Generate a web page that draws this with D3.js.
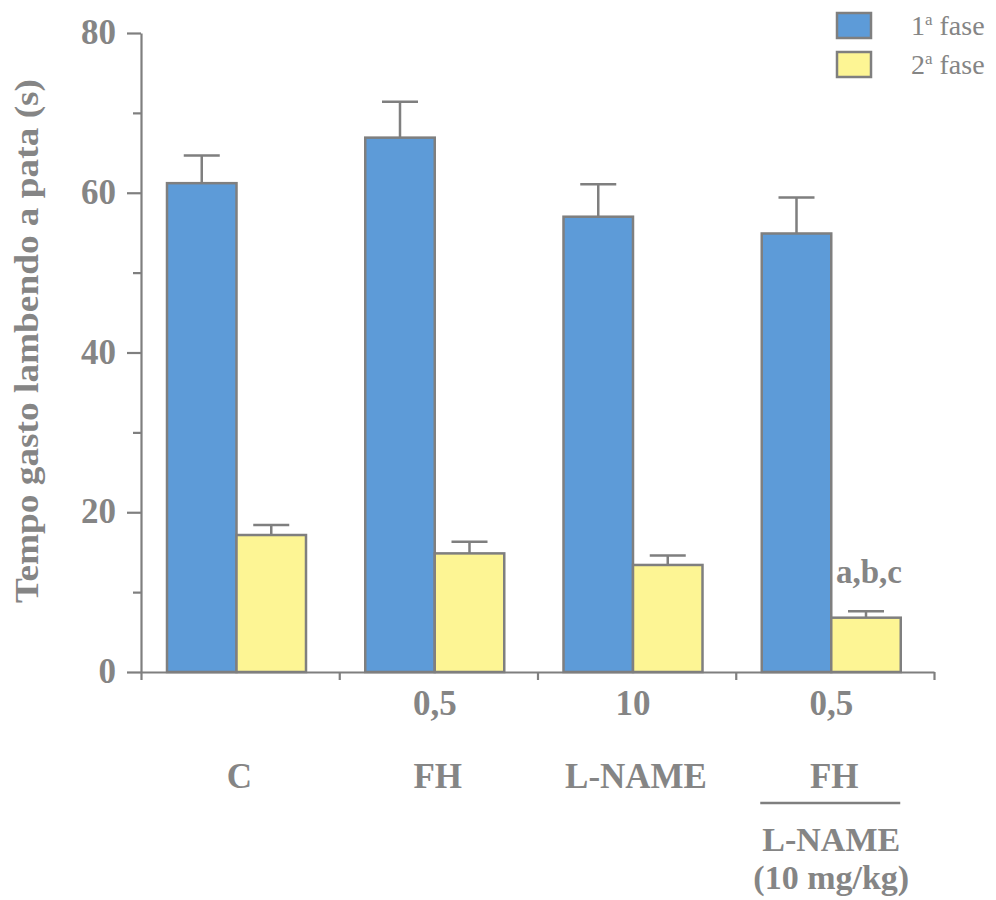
<!DOCTYPE html>
<html>
<head>
<meta charset="utf-8">
<script src="https://cdn.jsdelivr.net/npm/d3@7"></script>
<style>
  body { margin: 0; background: #fff; }
  svg { display: block; }
  text { font-family: "Liberation Serif", "Times New Roman", serif; }
</style>
</head>
<body>
<svg id="chart" width="996" height="900"></svg>
<script>
// groups and values
const groups = ["C", "FH", "L-NAME", "FH+L-NAME"];
const doseLabels = ["", "0,5", "10", "0,5"];
const nameLabels = ["C", "FH", "L-NAME", "FH"];
const comboLabels = ["L-NAME", "(10 mg/kg)"];
const phases = ["fase1", "fase2"];
const phaseNames = ["1", "2"];
const fase1 = [61.2, 66.9, 57.0, 54.9];
const fase1Err = [3.45, 4.5, 4.05, 4.5];
const fase2 = [17.15, 14.85, 13.4, 6.8];
const fase2Err = [1.25, 1.45, 1.2, 0.8];
const majorTicks = [0, 20, 40, 60, 80];
const minorTicks = [10, 30, 50, 70];
const signif = "a,b,c";

const grey = "#7f7f7f";
const textGrey = "#858585";
const colors = { fase1: "#5d9bd8", fase2: "#fdf594" };

const svg = d3.select("#chart");

const y = d3.scaleLinear().domain([0, 80]).range([672, 33]);
const x0 = d3.scaleBand().domain(groups).range([141, 934]);
const x1 = d3.scaleBand().domain(phases).range([26, 165]);
const xEdge = d3.scaleLinear().domain([0, groups.length]).range([141, 934]);

const rows = groups.map((g, i) => ({
    group: g,
    values: [
        { phase: "fase1", value: fase1[i], err: fase1Err[i] },
        { phase: "fase2", value: fase2[i], err: fase2Err[i] }
    ]
}));

// bars
const gGroup = svg.selectAll(".grp")
    .data(rows)
    .enter()
    .append("g")
    .attr("class", "grp")
    .attr("transform", d => `translate(${x0(d.group)},0)`);

// error bars (drawn first so the bar outline covers the foot)
gGroup.selectAll(".err")
    .data(d => d.values)
    .enter()
    .append("path")
    .attr("class", "err")
    .attr("d", d => {
        const cx = x1(d.phase) + x1.bandwidth() / 2;
        const top = y(d.value + d.err);
        return `M${cx},${y(d.value)}V${top}M${cx - 18},${top}H${cx + 18}`;
    })
    .attr("fill", "none")
    .attr("stroke", grey)
    .attr("stroke-width", 2.5);

gGroup.selectAll("rect")
    .data(d => d.values)
    .enter()
    .append("rect")
    .attr("x", d => x1(d.phase))
    .attr("y", d => y(d.value))
    .attr("width", x1.bandwidth())
    .attr("height", d => y(0) - y(d.value))
    .attr("fill", d => colors[d.phase])
    .attr("stroke", grey)
    .attr("stroke-width", 2.5);

// y axis
const yAxis = svg.append("g")
    .attr("transform", `translate(${xEdge(0)},0)`)
    .call(d3.axisLeft(y).tickValues(majorTicks).tickSize(14).tickSizeOuter(0).tickPadding(11).tickFormat(d3.format("d")));
svg.append("g")
    .attr("transform", `translate(${xEdge(0)},0)`)
    .call(d3.axisLeft(y).tickValues(minorTicks).tickSize(8).tickSizeOuter(0).tickFormat(""))
    .select(".domain").remove();

// x axis with ticks at group edges
svg.append("g")
    .attr("transform", `translate(0,${y(0)})`)
    .call(d3.axisBottom(xEdge).tickValues(d3.range(groups.length + 1)).tickSize(8).tickSizeOuter(0).tickFormat(""));

svg.selectAll(".domain, .tick line")
    .attr("stroke", grey)
    .attr("stroke-width", 2.2);

yAxis.selectAll("text")
    .attr("fill", textGrey)
    .style("font-size", "35px")
    .style("font-weight", "bold")
    .attr("dy", "0.3em");

// y label
svg.append("text")
    .attr("transform", "translate(38,341) rotate(-90)")
    .attr("text-anchor", "middle")
    .attr("fill", textGrey)
    .attr("textLength", 524)
    .attr("lengthAdjust", "spacingAndGlyphs")
    .style("font-size", "34px")
    .style("font-weight", "bold")
    .text("Tempo gasto lambendo a pata (s)");

// category labels
const cx = g => x0(g) + (x1.range()[0] + x1.range()[1]) / 2;

svg.selectAll(".dose")
    .data(groups)
    .enter()
    .append("text")
    .attr("class", "dose")
    .attr("x", d => cx(d))
    .attr("y", 715)
    .attr("text-anchor", "middle")
    .attr("fill", textGrey)
    .style("font-size", "35px")
    .style("font-weight", "bold")
    .text((d, i) => doseLabels[i]);

svg.selectAll(".name")
    .data(groups)
    .enter()
    .append("text")
    .attr("class", "name")
    .attr("x", d => cx(d) + 3)
    .attr("y", 788)
    .attr("text-anchor", "middle")
    .attr("fill", textGrey)
    .style("font-size", "35px")
    .style("font-weight", "bold")
    .text((d, i) => nameLabels[i]);

const last = groups[groups.length - 1];
svg.append("line")
    .attr("x1", cx(last) - 71)
    .attr("x2", cx(last) + 69)
    .attr("y1", 803)
    .attr("y2", 803)
    .attr("stroke", grey)
    .attr("stroke-width", 2.5);

svg.selectAll(".combo")
    .data(comboLabels)
    .enter()
    .append("text")
    .attr("class", "combo")
    .attr("x", cx(last))
    .attr("y", (d, i) => 851 + i * 38)
    .attr("text-anchor", "middle")
    .attr("fill", textGrey)
    .style("font-size", "34px")
    .style("font-weight", "bold")
    .text(d => d);

// significance mark over last 2nd-phase bar
const li = groups.length - 1;
svg.append("text")
    .attr("x", x0(last) + x1("fase2") + x1.bandwidth() / 2 + 3)
    .attr("y", y(fase2[li] + fase2Err[li]) - 28)
    .attr("text-anchor", "middle")
    .attr("fill", textGrey)
    .style("font-size", "33px")
    .style("font-weight", "bold")
    .text(signif);

// legend
const legend = svg.selectAll(".leg")
    .data(phases)
    .enter()
    .append("g")
    .attr("class", "leg")
    .attr("transform", (d, i) => `translate(837,${13 + i * 39})`);

legend.append("rect")
    .attr("width", 34)
    .attr("height", 25)
    .attr("fill", d => colors[d])
    .attr("stroke", grey)
    .attr("stroke-width", 2.5);

const lt = legend.append("text")
    .attr("x", 74)
    .attr("y", 22)
    .attr("fill", textGrey)
    .style("font-size", "28px");
lt.append("tspan").text((d, i) => phaseNames[i]);
lt.append("tspan").attr("dy", -10).style("font-size", "17px").text("a");
lt.append("tspan").attr("dy", 10).text(" fase");
</script>
</body>
</html>
